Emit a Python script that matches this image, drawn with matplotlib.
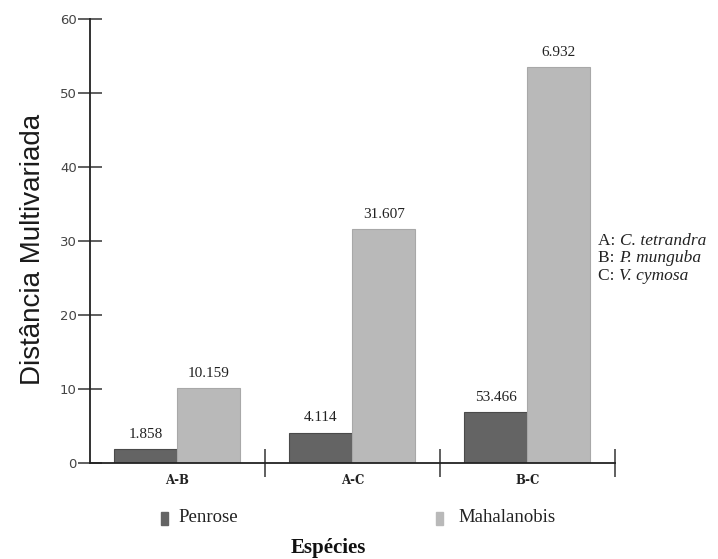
import numpy as np
import matplotlib
matplotlib.use("Agg")
import matplotlib.pyplot as plt
from matplotlib.patches import Rectangle

groups = ["A-B", "A-C", "B-C"]
penrose = [1.858, 4.114, 6.932]
mahalanobis = [10.159, 31.607, 53.466]
# labels as printed in the original (B-C labels appear swapped there)
penrose_labels = ["1.858", "4.114", "53.466"]
mahalanobis_labels = ["10.159", "31.607", "6.932"]
yticks = [0, 10, 20, 30, 40, 50, 60]
species = [("A: ", "C. tetrandra"), ("B: ", "P. munguba"), ("C: ", "V. cymosa")]

dark = "#646464"
light = "#b9b9b9"
serif = "Liberation Serif"

fig = plt.figure(figsize=(7.18, 5.59), dpi=100)
ax = fig.add_axes([0.1253, 0.1717, 0.7312, 0.7943])

x = np.arange(len(groups))
w = 0.36
ax.bar(x - w / 2, penrose, w, color=dark, edgecolor="#4a4a4a", linewidth=0.8)
ax.bar(x + w / 2, mahalanobis, w, color=light, edgecolor="#a8a8a8", linewidth=0.8)

for i in range(len(groups)):
    ax.text(x[i] - w / 2, penrose[i] + 1.1, penrose_labels[i], ha="center",
            va="bottom", fontsize=11, family=serif, color="#222222")
    ax.text(x[i] + w / 2, mahalanobis[i] + 1.1, mahalanobis_labels[i], ha="center",
            va="bottom", fontsize=11, family=serif, color="#222222")

ax.set_xlim(-0.5, 2.5)
ax.set_ylim(0, 60)
ax.spines["top"].set_visible(False)
ax.spines["right"].set_visible(False)
for s in ["left", "bottom"]:
    ax.spines[s].set_linewidth(1.3)
    ax.spines[s].set_color("#222222")

ax.set_yticks(yticks)
ax.tick_params(axis="y", direction="inout", length=17, width=1.2, color="#444444",
               labelsize=9.5, labelcolor="#444444", pad=1)
ax.set_xticks([0.5, 1.5, 2.5])
ax.set_xticklabels([])
ax.tick_params(axis="x", direction="inout", length=20, width=1.2, color="#444444")
for i, g in enumerate(groups):
    ax.text(x[i], -2.4, g, ha="center", va="center", fontsize=8.5, fontweight="bold",
            family="DejaVu Serif", color="#222222")

ax.set_ylabel("Distância Multivariada", fontsize=20, family="Liberation Sans",
              color="#1a1a1a")
ax.yaxis.set_label_coords(-0.083, 0.48)

# legend
fig.patches.append(Rectangle((161 / 718, 1 - 525 / 559), 7 / 718, 13 / 559,
                             transform=fig.transFigure, color=dark))
fig.text(178 / 718, 1 - 517 / 559, "Penrose", fontsize=13.5, family=serif,
         va="center", color="#222222")
fig.patches.append(Rectangle((436 / 718, 1 - 525 / 559), 7 / 718, 13 / 559,
                             transform=fig.transFigure, color=light))
fig.text(458 / 718, 1 - 517 / 559, "Mahalanobis", fontsize=13.5, family=serif,
         va="center", color="#222222")
fig.text(328 / 718, 1 - 548 / 559, "Espécies", fontsize=15, fontweight="bold",
         family=serif, ha="center", va="center", color="#111111")

for k, (prefix, name) in enumerate(species):
    yy = 1 - (241 + 17.5 * k) / 559
    t = fig.text(598 / 718, yy, prefix, fontsize=12.5, family=serif, va="center",
                 color="#222222")
    fig.canvas.draw()
    bb = t.get_window_extent()
    fig.text(bb.x1 / fig.bbox.width, yy, name, fontsize=12.5, family=serif,
             style="italic", va="center", color="#222222")

fig.savefig("out.png", dpi=100)
